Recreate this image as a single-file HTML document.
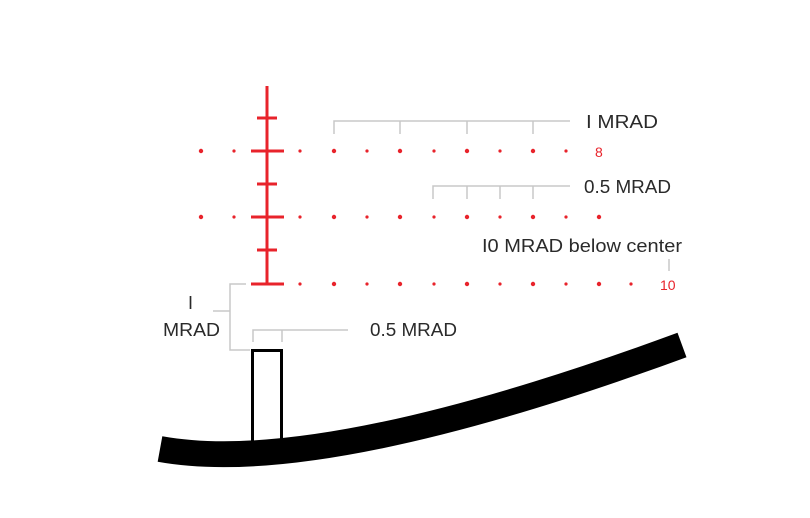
<!DOCTYPE html>
<html><head><style>body{margin:0;background:#fff}svg{display:block}</style></head>
<body>
<svg width="810" height="518" viewBox="0 0 810 518" xmlns="http://www.w3.org/2000/svg" font-family="'Liberation Sans',sans-serif">
<rect width="810" height="518" fill="#fff"/>
<g stroke="#e8232b" stroke-width="3" fill="none">
<line x1="267" y1="86" x2="267" y2="285"/>
<line x1="251" y1="151" x2="284" y2="151"/>
<line x1="251" y1="217" x2="284" y2="217"/>
<line x1="251" y1="284" x2="284" y2="284"/>
<line x1="257" y1="118" x2="277" y2="118"/>
<line x1="257" y1="184" x2="277" y2="184"/>
<line x1="257" y1="250" x2="277" y2="250"/>
</g>
<g fill="#e8232b">
<circle cx="201" cy="151" r="2.2"/><circle cx="234" cy="151" r="1.6"/><circle cx="300" cy="151" r="1.6"/>
<circle cx="334" cy="151" r="2.2"/><circle cx="367" cy="151" r="1.6"/><circle cx="400" cy="151" r="2.2"/>
<circle cx="434" cy="151" r="1.6"/><circle cx="467" cy="151" r="2.2"/><circle cx="500" cy="151" r="1.6"/>
<circle cx="533" cy="151" r="2.2"/><circle cx="566" cy="151" r="1.6"/>
<circle cx="201" cy="217" r="2.2"/><circle cx="234" cy="217" r="1.6"/><circle cx="300" cy="217" r="1.6"/>
<circle cx="334" cy="217" r="2.2"/><circle cx="367" cy="217" r="1.6"/><circle cx="400" cy="217" r="2.2"/>
<circle cx="434" cy="217" r="1.6"/><circle cx="467" cy="217" r="2.2"/><circle cx="500" cy="217" r="1.6"/>
<circle cx="533" cy="217" r="2.2"/><circle cx="566" cy="217" r="1.6"/><circle cx="599" cy="217" r="2.2"/>
<circle cx="300" cy="284" r="1.6"/>
<circle cx="334" cy="284" r="2.2"/><circle cx="367" cy="284" r="1.6"/><circle cx="400" cy="284" r="2.2"/>
<circle cx="434" cy="284" r="1.6"/><circle cx="467" cy="284" r="2.2"/><circle cx="500" cy="284" r="1.6"/>
<circle cx="533" cy="284" r="2.2"/><circle cx="566" cy="284" r="1.6"/><circle cx="599" cy="284" r="2.2"/>
<circle cx="631" cy="284" r="1.6"/>
</g>
<text x="595" y="157" font-size="14" fill="#e8232b">8</text>
<text x="660" y="290" font-size="14" fill="#e8232b">10</text>
<g stroke="#c8c8c8" stroke-width="1.5" fill="none">
<path d="M334 134V121H570M400 121V134M467 121V134M533 121V134"/>
<path d="M433 199V186H570M467 186V199M500 186V199M533 186V199"/>
<line x1="669" y1="259" x2="669" y2="271"/>
<path d="M246 284H230V350H250M213 311H230"/>
<path d="M253 342V330H348M282 330V342"/>
</g>
<g fill="#2a2a2a" font-size="18">
<text x="586" y="128" textLength="72" lengthAdjust="spacingAndGlyphs">I MRAD</text>
<text x="584" y="193" textLength="87" lengthAdjust="spacingAndGlyphs">0.5 MRAD</text>
<text x="482" y="252" textLength="200" lengthAdjust="spacingAndGlyphs">I0 MRAD below center</text>
<text x="188" y="309">I</text>
<text x="163" y="336" textLength="57" lengthAdjust="spacingAndGlyphs">MRAD</text>
<text x="370" y="336" textLength="87" lengthAdjust="spacingAndGlyphs">0.5 MRAD</text>
</g>
<rect x="252.5" y="350.5" width="29" height="92" fill="none" stroke="#000" stroke-width="3"/>
<path d="M160 449 Q320 478 682 345" stroke="#000" stroke-width="26" fill="none"/>
</svg>
</body></html>
